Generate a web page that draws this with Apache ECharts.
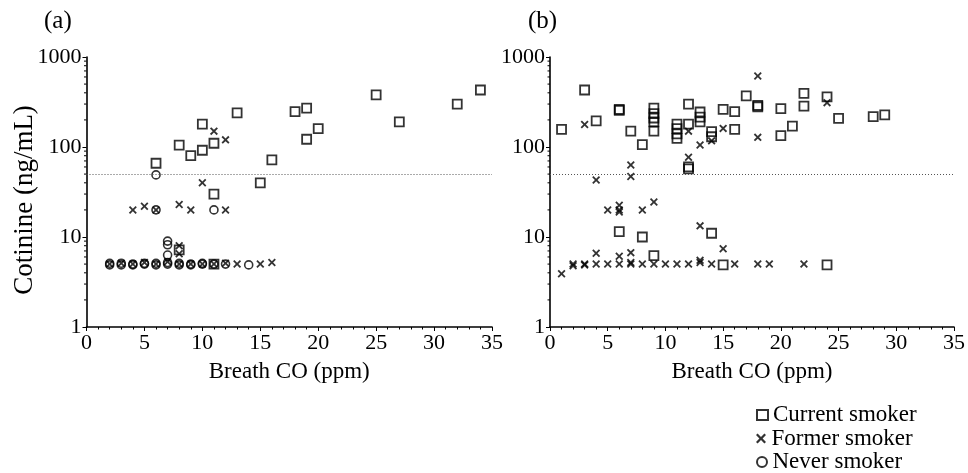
<!DOCTYPE html>
<html><head><meta charset="utf-8">
<script src="https://cdn.jsdelivr.net/npm/echarts@6/dist/echarts.min.js"></script>
<style>html,body{margin:0;padding:0;background:#fff}#c{width:968px;height:473px}</style>
</head><body><div id="c"></div>
<script>
// ---- data ----
const xTicks = [0, 5, 10, 15, 20, 25, 30, 35];
const yTicks = [1, 10, 100, 1000];
const yMinorTicks = [2,3,4,5,6,7,8,9,20,30,40,50,60,70,80,90,200,300,400,500,600,700,800,900];
const cutoff = [50];
const panelLabels = ['(a)', '(b)'];
const xTitle = 'Breath CO (ppm)';
const yTitle = 'Cotinine (ng/mL)';
const seriesNames = ['Current smoker', 'Former smoker', 'Never smoker'];

const aCurrent = [[6,66],[8,105],[9,80],[10,180],[10,92],[11,110],[11,30],[13,240],[15,40],[16,72],[18,247],[19,270],[19,122],[20,160],[25,380],[27,190],[32,300],[34,430],[8,7.2],[11,5]];
const aFormer = [[4,20],[5,22],[8,23],[9,20],[10,40],[11,150],[12,120],[12,20],[6,20],[8,8],[8,6.5],[13,5],[15,5],[16,5.2],
  [2,5],[3,5.1],[4,5],[5,5.2],[6,5],[7,5.3],[8,5],[9,5],[10,5],[11,5],[12,5.1]];
const aNever = [[6,49],[6,20],[11,20],[7,9],[7,8.2],[7,6.3],[14,4.9],[12,5],[11,5],
  [2,4.9],[2,5.1],[3,4.9],[3,5.1],[4,5],[4,4.9],[5,5],[5,5.1],[6,4.9],[6,5.1],[7,5],[7,5.2],[8,4.9],[8,5.1],[9,5],[9,4.9],[10,5],[10,5.1]];

const bCurrent = [[1,157],[3,430],[4,195],[6,255],[6,262],[7,150],[8,106],[9,270],[9,235],[9,210],[9,190],[9,150],[11,180],[11,160],[11,140],[11,125],[12,300],[12,180],[12,60],[12,57],[13,245],[13,215],[13,190],[14,148],[14,130],[15,262],[16,247],[16,157],[17,370],[18,280],[18,290],[20,267],[20,134],[21,171],[22,395],[22,285],[24,360],[25,208],[28,217],[29,228],[6,11.5],[8,10],[9,6.2],[14,11],[15,4.9],[24,4.9]];
const bFormer = [[1,3.9],[2,5],[2,4.8],[3,5],[3,4.9],[3,178],[4,5],[4,6.6],[4,43],[5,20],[5,5],[6,22.5],[6,20],[6,19],[6,6.1],[6,5],[7,63],[7,47],[7,6.7],[7,5.2],[7,5],[8,20],[8,5],[9,24.5],[9,5],[10,5],[11,5],[12,5],[12,77],[12,150],[13,105],[13,13.3],[13,5.5],[13,5.2],[14,117],[14,5],[15,161],[15,7.4],[16,5],[18,615],[18,128],[18,5],[19,5],[22,5],[24,311]];
const bNever = [];

// ---- chart ----
const FONT = 'Liberation Serif';
const crossPath = 'path://M0,1.6 L1.6,0 L5,3.4 L8.4,0 L10,1.6 L6.6,5 L10,8.4 L8.4,10 L5,6.6 L1.6,10 L0,8.4 L3.4,5 Z';
const chart = echarts.init(document.getElementById('c'));

const grids = [
  {left: 86.5, top: 57, width: 405.5, height: 270},
  {left: 550, top: 57, width: 405.5, height: 270}
];

function xAxisFor(i) {
  return {
    type: 'value', gridIndex: i, min: xTicks[0], max: xTicks[xTicks.length-1], interval: 5,
    name: xTitle, nameLocation: 'middle', nameGap: 33,
    nameTextStyle: {fontFamily: FONT, fontSize: 23, color: '#000'},
    axisLine: {lineStyle: {color: '#000', width: 1.6}},
    axisTick: {show: true, length: 4, lineStyle: {color: '#000', width: 1}},
    minorTick: {show: true, splitNumber: 5, length: 2.5, lineStyle: {color: '#000', width: 1}},
    axisLabel: {fontFamily: FONT, fontSize: 22, color: '#000', margin: 5,
      formatter: v => xTicks.indexOf(v) >= 0 ? String(v) : ''},
    splitLine: {show: false}
  };
}
function yAxisFor(i) {
  return {
    type: 'log', logBase: 10, gridIndex: i, min: yTicks[0], max: yTicks[yTicks.length-1],
    axisLine: {show: true, lineStyle: {color: '#000', width: 1.6}},
    axisTick: {show: true, length: 4, lineStyle: {color: '#000', width: 1}},
    axisLabel: {fontFamily: FONT, fontSize: 22, color: '#000', margin: 5,
      formatter: v => String(Math.round(v))},
    splitLine: {show: false}
  };
}

function scatter(name, data, i) {
  const base = {name, type: 'scatter', xAxisIndex: i, yAxisIndex: i, data, z: 3};
  if (name === seriesNames[0]) {
    Object.assign(base, {symbol: 'rect', symbolSize: 9,
      itemStyle: {color: 'rgba(255,255,255,0)', borderColor: '#000', borderWidth: 1.8}});
  } else if (name === seriesNames[1]) {
    Object.assign(base, {symbol: crossPath, symbolSize: 8, itemStyle: {color: '#000'}});
  } else {
    Object.assign(base, {symbol: 'circle', symbolSize: 8,
      itemStyle: {color: 'rgba(255,255,255,0)', borderColor: '#000', borderWidth: 1.6}});
  }
  return base;
}

function minorTickSeries(i) {
  return {
    type: 'custom', xAxisIndex: i, yAxisIndex: i, silent: true, clip: false,
    data: yMinorTicks.map(v => [0, v]),
    renderItem: (params, api) => {
      const p = api.coord([0, api.value(1)]);
      return {type: 'line', shape: {x1: p[0] - 2.5, y1: p[1], x2: p[0], y2: p[1]},
        style: {stroke: '#000', lineWidth: 1}};
    },
    z: 2
  };
}

function cutoffSeries(i) {
  return {
    type: 'line', xAxisIndex: i, yAxisIndex: i, data: [], silent: true,
    markLine: {silent: true, symbol: 'none', label: {show: false},
      lineStyle: {color: '#555', type: [1, 2], width: 1},
      data: cutoff.map(v => ({yAxis: v}))}
  };
}

const legendTops = [403.5, 427, 450.5];
const option = {
  animation: false,
  backgroundColor: '#fff',
  grid: grids,
  xAxis: [xAxisFor(0), xAxisFor(1)],
  yAxis: [yAxisFor(0), yAxisFor(1)],
  legend: seriesNames.map((n, k) => ({
    orient: 'vertical', left: 756, top: legendTops[k], padding: 0, itemWidth: 11, itemHeight: 10,
    data: [n],
    textStyle: {fontFamily: FONT, fontSize: 23, color: '#000'},
    selectedMode: false
  })),
  graphic: [
    {type: 'text', left: 44, top: 9, style: {text: panelLabels[0], font: '25px "Liberation Serif"', fill: '#000'}},
    {type: 'text', left: 528, top: 9, style: {text: panelLabels[1], font: '25px "Liberation Serif"', fill: '#000'}},
    {type: 'text', x: 25, y: 200, rotation: Math.PI / 2,
      style: {text: yTitle, font: '27px "Liberation Serif"', fill: '#000', align: 'center', verticalAlign: 'middle'}}
  ],
  series: [
    cutoffSeries(0), cutoffSeries(1),
    minorTickSeries(0), minorTickSeries(1),
    scatter(seriesNames[0], aCurrent, 0),
    scatter(seriesNames[1], aFormer, 0),
    scatter(seriesNames[2], aNever, 0),
    scatter(seriesNames[0], bCurrent, 1),
    scatter(seriesNames[1], bFormer, 1),
    scatter(seriesNames[2], bNever, 1)
  ]
};
chart.setOption(option);
</script>
</body></html>
